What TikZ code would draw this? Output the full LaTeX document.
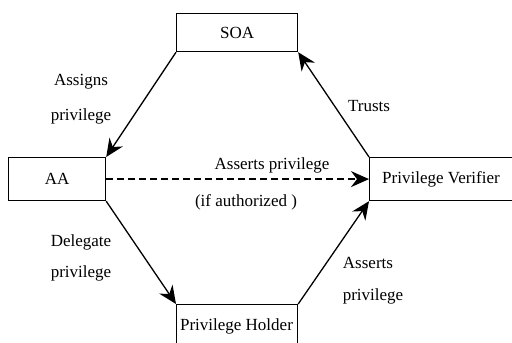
\documentclass[tikz,border=0pt]{standalone}
\usepackage{fontspec}
\setmainfont{Liberation Serif}
\newfontfamily\labelfont{Liberation Serif}
\usetikzlibrary{arrows.meta}
\begin{document}
\begin{tikzpicture}[x=1pt,y=-1pt,
  box/.style={draw, line width=1.2pt, inner sep=0pt, anchor=north west},
  lbl/.style={font=\labelfont\fontsize{17}{19}\selectfont, inner sep=0pt},
  conn/.style={line width=1.3pt, -{Stealth[length=18pt,width=16pt,inset=6pt]}}]
\clip (0,0) rectangle (512,343);
\useasboundingbox (0,0) rectangle (512,343);
% boxes
\node[box, minimum width=121pt, minimum height=38pt] (soa) at (176,13) {};
\node[lbl] at (soa.center) {SOA};
\node[box, minimum width=97pt, minimum height=43pt] (aa) at (8,157) {};
\node[lbl] at (aa.center) {AA};
\node[box, minimum width=150pt, minimum height=43pt] (pv) at (369,157) {};
\node[lbl] at (441,179) {Privilege Verifier};
\node[box, minimum width=121pt, minimum height=50pt] (ph) at (176,304) {};
\node[lbl] at (236.5,326) {Privilege Holder};
% connectors
\draw[conn] (soa.south west) -- (aa.north east);
\draw[conn] (pv.north west) -- (soa.south east);
\draw[conn, dashed, dash pattern=on 7pt off 4pt] (aa.east) -- (pv.west |- aa.east);
\draw[conn] (aa.south east) -- (ph.north west);
\draw[conn] (ph.north east) -- (pv.south west);
% labels
\node[lbl] (l1) at (81,82) {Assigns};
\node[lbl] (l2) at (81,116) {privilege};
\node[lbl] (l3) at (369,106) {Trusts};
\node[lbl] (l4) at (272,165) {Asserts privilege};
\node[lbl] (l5) at (246,202) {(if authorized )};
\node[lbl] (l6) at (81,242) {Delegate};
\node[lbl] (l7) at (81,273) {privilege};
\node[lbl] (l8) at (368,263) {Asserts};
\node[lbl] (l9) at (373,296) {privilege};
\end{tikzpicture}
\end{document}
